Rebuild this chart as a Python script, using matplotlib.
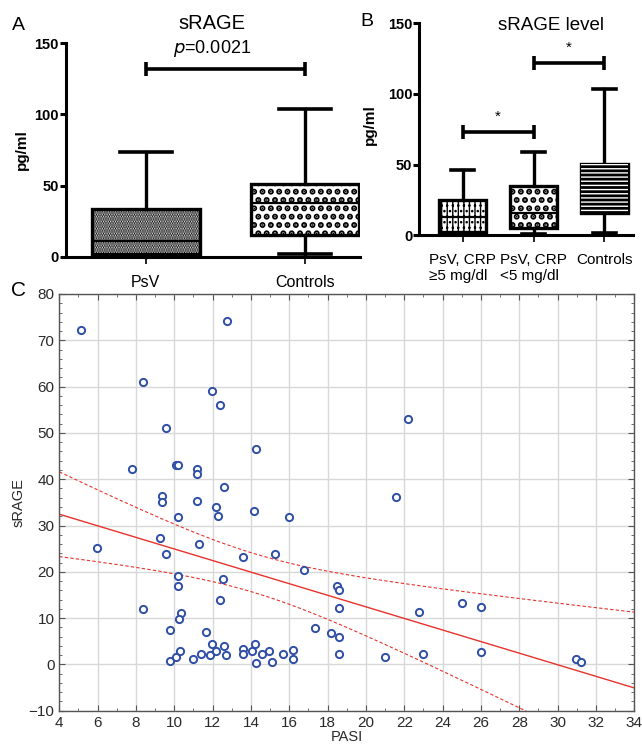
import numpy as np
import matplotlib
matplotlib.use("Agg")
import matplotlib.pyplot as plt
from matplotlib.patches import PathPatch
from matplotlib.ticker import MultipleLocator

plt.rcParams['font.family'] = ['Liberation Sans', 'DejaVu Sans']
plt.rcParams['hatch.linewidth'] = 1.0

# --- panel A: sRAGE, PsV vs controls (box = q1..q3, whiskers min..max)
a_groups = ["PsV", "Controls"]
a_q1 = [2.0, 15.2]
a_med = [11.0, 37.6]
a_q3 = [33.5, 50.9]
a_min = [0.0, 1.6]
a_max = [73.8, 103.6]
a_pval = "=0.0021"

# --- panel B: sRAGE level by CRP
b_groups = ["PsV, CRP\n≥5 mg/dl", "PsV, CRP\n<5 mg/dl", "Controls"]
b_q1 = [2.1, 5.2, 16.0]
b_med = [13.2, 15.6, 37.6]
b_q3 = [24.8, 34.9, 50.5]
b_min = [0.7, 0.7, 1.4]
b_max = [46.2, 59.2, 103.8]

# --- panel C: sRAGE vs PASI
pasi = [5.15, 12.75, 8.37, 11.97, 12.38, 9.55, 14.28, 7.77, 10.07, 10.21,
        11.17, 11.17, 12.57, 9.37, 9.37, 11.17, 12.16, 12.28, 10.19, 14.17,
        15.97, 5.97, 9.25, 9.55, 11.27, 13.57, 15.27, 16.77, 10.19, 10.19,
        12.56, 12.38, 8.37, 10.37, 10.26, 9.77, 11.67, 17.36, 18.16, 9.77,
        10.09, 10.28, 10.97, 11.37, 11.86, 11.98, 12.17, 12.57, 12.70, 13.58,
        13.58, 14.07, 14.19, 14.28, 14.59, 14.96, 15.08, 15.67, 16.19, 16.19,
        22.17, 21.58, 18.49, 18.57, 18.57, 18.57, 18.57, 22.77, 20.99, 22.96,
        24.99, 25.98, 25.98, 30.96, 31.22]
srage = [72.2, 74.2, 61.1, 59.1, 56.1, 51.1, 46.5, 42.1, 43.1, 43.1,
         42.1, 41.1, 38.3, 36.4, 35.1, 35.3, 34.1, 32.1, 31.9, 33.2,
         31.9, 25.1, 27.3, 23.75, 26.0, 23.2, 23.75, 20.4, 19.1, 16.9,
         18.5, 14.0, 12.0, 11.1, 9.7, 7.4, 6.9, 7.9, 6.8, 0.8,
         1.5, 3.0, 1.1, 2.2, 1.95, 4.3, 3.0, 4.0, 2.1, 3.3,
         2.3, 3.0, 4.5, 0.3, 2.3, 3.0, 0.6, 2.3, 3.2, 1.2,
         53.1, 36.2, 17.0, 16.0, 12.2, 6.0, 2.2, 11.3, 1.7, 2.3,
         13.2, 12.5, 2.6, 1.2, 0.6]

W, H = 642, 750
fig = plt.figure(figsize=(W / 100, H / 100), dpi=100)


def px_axes(left, top, right, bottom):
    return fig.add_axes([left / W, 1 - bottom / H, (right - left) / W, (bottom - top) / H])


def box_panel(ax, labels, q1, med, q3, lo, hi, hatches, width, xlim):
    stats = []
    for i in range(len(labels)):
        stats.append(dict(med=med[i], q1=q1[i], q3=q3[i], whislo=lo[i], whishi=hi[i], fliers=[]))
    pos = np.arange(1, len(labels) + 1)
    bp = ax.bxp(stats, positions=pos, widths=width, capwidths=width * 0.48, patch_artist=True,
                showfliers=False,
                boxprops=dict(linewidth=2.4, edgecolor='black', facecolor='white'),
                whiskerprops=dict(linewidth=2.4, color='black'),
                capprops=dict(linewidth=2.6, color='black'),
                medianprops=dict(linewidth=1.6, color='black'))
    for patch, (h, hlw) in zip(bp['boxes'], hatches):
        if h == 'lines':
            patch.set_facecolor('black')
            over = PathPatch(patch.get_path(), transform=patch.get_transform(), facecolor='none',
                             edgecolor='white', hatch='----', linewidth=0, zorder=patch.get_zorder() + 0.1)
            if hasattr(over, 'set_hatch_linewidth'):
                over.set_hatch_linewidth(hlw)
            ax.add_patch(over)
        else:
            patch.set_hatch(h)
            if hasattr(patch, 'set_hatch_linewidth'):
                patch.set_hatch_linewidth(hlw)
    for art in bp['caps'] + bp['whiskers']:
        art.set_clip_on(False)
    ax.set_xlim(*xlim)
    ax.set_ylim(0, 150)
    ax.set_yticks([0, 50, 100, 150])
    ax.set_xticks(pos)
    ax.set_xticklabels(labels, fontsize=11, multialignment='left', linespacing=1.15)
    for s in ['top', 'right']:
        ax.spines[s].set_visible(False)
    for s in ['left', 'bottom']:
        ax.spines[s].set_linewidth(2.2)
    ax.tick_params(axis='y', direction='out', length=4, width=2.2, labelsize=10.5, pad=1)
    ax.tick_params(axis='x', direction='out', length=5, width=1.2, pad=8)
    for t in ax.get_yticklabels():
        t.set_fontweight('bold')
    ax.set_ylabel("pg/ml", fontsize=11, fontweight='bold', labelpad=4)
    return pos


def sig_bar(ax, x1, x2, y, star=None):
    ax.plot([x1, x2], [y, y], color='black', lw=2.6, solid_capstyle='butt')
    ax.plot([x1, x2], [y, y], ls='none', marker='|', ms=10, mew=2.6, color='black')
    if star:
        ax.text((x1 + x2) / 2, y + 6, star, ha='center', va='bottom', fontsize=11)


# panel A
axA = px_axes(65.7, 43.3, 360, 256.7)
box_panel(axA, a_groups, a_q1, a_med, a_q3, a_min, a_max,
          [('.......', 1.4), ('..', 3.0)], 0.68, (0.497, 2.346))
axA.tick_params(axis='x', labelsize=11.5)
sig_bar(axA, 1, 2, 131.7)
fig.text(212 / W, 1 - 23.5 / H, "sRAGE", ha='center', va='center', fontsize=14.5)
fig.text(212 / W, 1 - 48.5 / H, r"$\it{p}$" + a_pval, ha='center', va='center', fontsize=13)
fig.text(18 / W, 1 - 26 / H, "A", ha='center', va='center', fontsize=14)

# panel B
axB = px_axes(419.3, 23.3, 633, 235.3)
box_panel(axB, b_groups, b_q1, b_med, b_q3, b_min, b_max,
          [('|||...', 1.0), ('..', 3.0), ('lines', 1.0)], 0.66, (0.387, 3.405))
axB.yaxis.set_label_coords(-0.198, 0.52)
sig_bar(axB, 1.0, 2.0, 72.9, '*')
sig_bar(axB, 2.0, 3.0, 121.7, '*')
fig.text(551 / W, 1 - 25 / H, "sRAGE level", ha='center', va='center', fontsize=13.5)
fig.text(367 / W, 1 - 22 / H, "B", ha='center', va='center', fontsize=14)

# panel C
axC = px_axes(59.3, 294, 634.3, 710.7)
axC.plot(pasi, srage, ls='none', marker='o', ms=5.2, mew=1.4, mfc='white', mec='#2f4ea6', zorder=3)

# linear fit with 95% confidence band of the mean
x = np.array(pasi)
y = np.array(srage)
slope, icpt = np.polyfit(x, y, 1)
n = len(x)
resid = y - (slope * x + icpt)
s_err = np.sqrt(np.sum(resid ** 2) / (n - 2))
sxx = np.sum((x - x.mean()) ** 2)
xf = np.linspace(4, 34, 200)
yf = slope * xf + icpt
ci = 1.993 * s_err * np.sqrt(1 / n + (xf - x.mean()) ** 2 / sxx)
axC.plot(xf, yf, color='#e8322c', lw=1.0, zorder=2)
axC.plot(xf, yf + ci, color='#e8322c', lw=0.8, ls=(0, (3, 2)), zorder=2)
axC.plot(xf, yf - ci, color='#e8322c', lw=0.8, ls=(0, (3, 2)), zorder=2)

axC.set_xlim(4, 34)
axC.set_ylim(-10, 80)
axC.xaxis.set_major_locator(MultipleLocator(2))
axC.xaxis.set_minor_locator(MultipleLocator(1))
axC.yaxis.set_major_locator(MultipleLocator(10))
axC.yaxis.set_minor_locator(MultipleLocator(2))
axC.grid(True, which='major', color='#d8d8d8', lw=1.0)
axC.set_axisbelow(True)
for s in axC.spines.values():
    s.set_color('#555555')
    s.set_linewidth(1.0)
axC.tick_params(which='both', direction='in', top=True, right=True, colors='#555555',
                labelcolor='#2a2a2a', labelsize=11)
axC.tick_params(which='major', length=4)
axC.tick_params(which='minor', length=2)
axC.set_xlabel("PASI", fontsize=10.5, color='#2a2a2a', labelpad=0)
axC.set_ylabel("sRAGE", fontsize=10.5, color='#2a2a2a', labelpad=2)
fig.text(18 / W, 1 - 290 / H, "C", ha='center', va='center', fontsize=15)

fig.savefig("out.png", dpi=100)
